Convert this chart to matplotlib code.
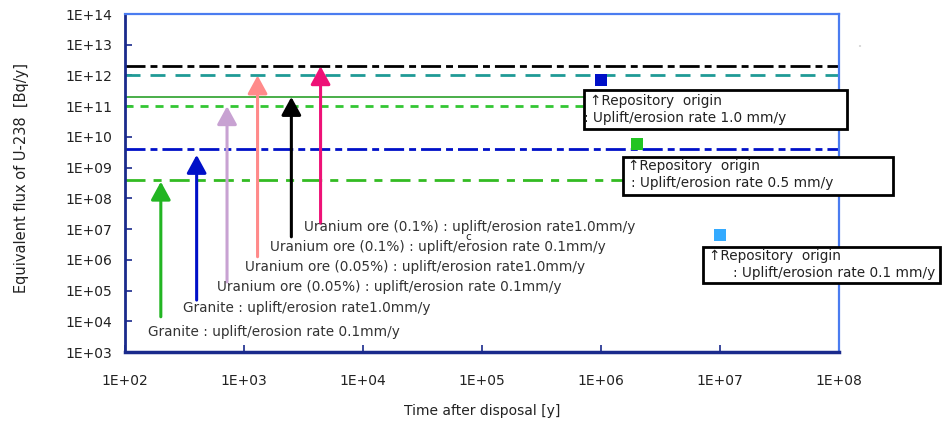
import matplotlib
matplotlib.use("Agg")
import matplotlib.pyplot as plt
from matplotlib.patches import Rectangle, Circle

# --- data -------------------------------------------------------------
# Reference flux levels (horizontal lines), Bq/y
level_values = [2e12, 1e12, 2e11, 1e11, 4e9, 4e8]
level_colors = ["#000000", "#1f9a96", "#3aa83a", "#33c633", "#0010c8", "#33bb22"]
level_styles = [(0, (7.2, 1.8, 2.5, 1.8)), (0, (5.4, 3.6)), "-", (0, (2.9, 2.5)),
                (0, (7.2, 1.8, 2.5, 1.8)), (0, (7.2, 2.9, 2.9, 2.9))]
level_widths = [2.0, 2.0, 1.3, 2.0, 2.0, 2.0]

# Natural analogues: time [y], arrow base and tip flux [Bq/y]
analog_times = [200, 400, 720, 1300, 2500, 4400]
analog_base = [1.4e4, 4.9e4, 1.9e5, 1.26e6, 5.6e6, 1.55e7]
analog_tip = [3.5e8, 2.6e9, 1.0e11, 1.0e12, 2.0e11, 2.0e12]
analog_colors = ["#22b522", "#0010c8", "#c8a2d2", "#ff8a8a", "#000000", "#ee1177"]
analog_labels = [
    "Granite : uplift/erosion rate 0.1mm/y",
    "Granite : uplift/erosion rate1.0mm/y",
    "Uranium ore (0.05%) : uplift/erosion rate 0.1mm/y",
    "Uranium ore (0.05%) : uplift/erosion rate1.0mm/y",
    "Uranium ore (0.1%) : uplift/erosion rate 0.1mm/y",
    "Uranium ore (0.1%) : uplift/erosion rate1.0mm/y",
]

# Repository-origin peak flux
repo_times = [1.0e6, 2.0e6, 1.0e7]
repo_flux = [7.0e11, 6.0e9, 6.3e6]
repo_colors = ["#0010c8", "#22c422", "#33aaff"]
repo_rates = ["1.0", "0.5", "0.1"]

x_ticks = [1e2, 1e3, 1e4, 1e5, 1e6, 1e7, 1e8]
x_ticklabels = ["1E+02", "1E+03", "1E+04", "1E+05", "1E+06", "1E+07", "1E+08"]
y_ticks = [10.0 ** k for k in range(3, 15)]
y_ticklabels = ["1E+%02d" % k for k in range(3, 15)]

# --- figure -----------------------------------------------------------
W, H = 953, 423
fig = plt.figure(figsize=(W / 100, H / 100), dpi=100)
plt.rcParams["font.family"] = ["DejaVu Sans"]


def fx(px):
    return px / W


def fy(py):
    return 1 - py / H


ax = fig.add_axes([fx(125), fy(352), fx(839) - fx(125), fy(14) - fy(352)])
ax.set_xscale("log")
ax.set_yscale("log")
ax.set_xlim(1e2, 1e8)
ax.set_ylim(1e3, 1e14)

for v, c, ls, lw in zip(level_values, level_colors, level_styles, level_widths):
    ax.plot([1e2, 1e8], [v, v], color=c, linestyle=ls, lw=lw, zorder=2)

label_px = [(148, 332), (183, 308), (217, 287), (245, 267), (270, 247), (304, 227)]
for t, b, tip, c, lab, (lx, ly) in zip(analog_times, analog_base, analog_tip,
                                       analog_colors, analog_labels, label_px):
    ax.annotate("", xy=(t, tip), xytext=(t, b),
                arrowprops=dict(arrowstyle="-|>,head_length=1.1,head_width=0.6",
                                mutation_scale=10, color=c, lw=2.2,
                                shrinkA=0, shrinkB=0),
                zorder=4)
    fig.text(fx(lx), fy(ly), lab, fontsize=9.8, color="#333333",
             ha="left", va="center")

fig.text(fx(465), fy(237), "c", fontsize=7.5, color="#222222",
         ha="left", va="center")

ax.scatter(repo_times, repo_flux, marker="s", s=80, c=repo_colors,
           edgecolors="none", zorder=5)

# Annotation boxes (pixel layout: x0, y0, x1, y1, line positions)
boxes = [
    (584, 90, 847, 129, (590, 101), (584, 118)),
    (623, 157, 893, 195, (628, 166), (631, 183)),
    (703, 247, 940, 283, (709, 256), (733, 273)),
]
for (x0, y0, x1, y1, p1, p2), rate in zip(boxes, repo_rates):
    fig.patches.append(Rectangle((fx(x0), fy(y1)), fx(x1) - fx(x0),
                                 fy(y0) - fy(y1), transform=fig.transFigure,
                                 facecolor="white", edgecolor="black", lw=2,
                                 zorder=6))
    fig.text(fx(p1[0]), fy(p1[1]), "\u2191Repository  origin", fontsize=9.8,
             color="#222222", ha="left", va="center", zorder=7)
    fig.text(fx(p2[0]), fy(p2[1]), ": Uplift/erosion rate %s mm/y" % rate,
             fontsize=9.8, color="#222222", ha="left", va="center", zorder=7)

# small speck right of the frame
fig.patches.append(Circle((fx(860), fy(46)), 0.0012, transform=fig.transFigure,
                          facecolor="#aaaaaa", edgecolor="none"))

# Frame
ax.spines["top"].set_color("#4a7cf0")
ax.spines["right"].set_color("#4a7cf0")
ax.spines["top"].set_linewidth(1.6)
ax.spines["right"].set_linewidth(1.6)
ax.spines["left"].set_color("#1a2a8c")
ax.spines["left"].set_linewidth(2.0)
ax.spines["bottom"].set_color("#1a2a8c")
ax.spines["bottom"].set_linewidth(2.5)

ax.set_xticks(x_ticks)
ax.set_xticklabels(x_ticklabels)
ax.set_yticks(y_ticks)
ax.set_yticklabels(y_ticklabels)
ax.minorticks_off()
ax.tick_params(axis="both", direction="in", length=5, width=1.2,
               color="#1a2a8c", labelsize=10, labelcolor="#222222")
ax.tick_params(axis="y", pad=9)
ax.tick_params(axis="x", pad=16)

ax.set_xlabel("Time after disposal [y]", fontsize=10, color="#222222",
              labelpad=11)
ax.set_ylabel("Equivalent flux of U-238  [Bq/y]", fontsize=10.5,
              color="#222222")
ax.yaxis.set_label_coords(-(125 - 29) / (839 - 125), 0.515)

fig.savefig("out.png", dpi=100)
